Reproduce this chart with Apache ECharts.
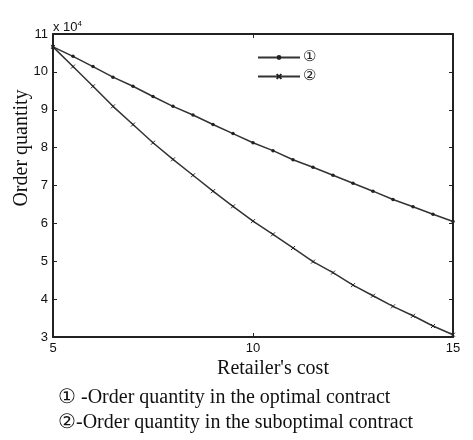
<!DOCTYPE html>
<html>
<head>
<meta charset="utf-8">
<script src="https://cdn.jsdelivr.net/npm/echarts@6/dist/echarts.min.js"></script>
<style>
  html, body { margin: 0; padding: 0; background: #fff; }
  #chart { width: 473px; height: 440px; }
</style>
</head>
<body>
<div id="chart"></div>
<script>
// Retailer's cost (x) sampled every 0.5
const retailerCost = [5, 5.5, 6, 6.5, 7, 7.5, 8, 8.5, 9, 9.5, 10, 10.5, 11, 11.5, 12, 12.5, 13, 13.5, 14, 14.5, 15];
// Order quantity, in units of 10^4
const optimalQty = [10.66, 10.41, 10.14, 9.86, 9.62, 9.35, 9.09, 8.86, 8.61, 8.37, 8.13, 7.92, 7.68, 7.48, 7.27, 7.06, 6.85, 6.63, 6.44, 6.24, 6.05];
const suboptimalQty = [10.66, 10.14, 9.62, 9.09, 8.61, 8.13, 7.69, 7.27, 6.85, 6.45, 6.06, 5.71, 5.35, 4.99, 4.70, 4.37, 4.09, 3.81, 3.56, 3.29, 3.06];
const seriesNames = ['①', '②'];
const xTitle = "Retailer's cost";
const yTitle = 'Order quantity';
const footnotes = ['① -Order quantity in the optimal contract', '②-Order quantity in the suboptimal contract'];

const pair = (xs, ys) => xs.map((x, i) => [x, ys[i]]);
const ink = '#222';
const sans = 'Arial, "Liberation Sans", sans-serif';
const serif = '"Times New Roman", "Liberation Serif", serif';

const frameAxis = (extra) => Object.assign({
  axisLine: { show: true, onZero: false, lineStyle: { color: ink, width: 2 } },
  axisTick: { show: true, inside: true, length: 4, lineStyle: { color: ink } },
  splitLine: { show: false }
}, extra);

const chart = echarts.init(document.getElementById('chart'));
chart.setOption({
  animation: false,
  backgroundColor: '#fff',
  grid: { left: 53, right: 20, top: 34, bottom: 103 },
  legend: {
    orient: 'vertical', left: 257, top: 50, padding: 0, itemWidth: 42, itemHeight: 6, itemGap: 4,
    textStyle: { fontFamily: serif, fontSize: 15, color: ink, padding: [0, 0, 0, -2] },
    data: seriesNames
  },
  xAxis: [
    frameAxis({ type: 'value', min: 5, max: 15, interval: 5,
      axisLabel: { fontFamily: sans, fontSize: 13, color: '#111', margin: 5 } }),
    frameAxis({ type: 'value', min: 5, max: 15, interval: 5, position: 'top',
      axisLabel: { show: false } })
  ],
  yAxis: [
    frameAxis({ type: 'value', min: 3, max: 11, interval: 1,
      axisLabel: { fontFamily: sans, fontSize: 13, color: '#111', margin: 5 } }),
    frameAxis({ type: 'value', min: 3, max: 11, interval: 1, position: 'right',
      axisLabel: { show: false } })
  ],
  graphic: [
    { type: 'text', left: 53, top: 20, style: {
        text: 'x 10{s|4}', fill: '#111', font: '13px ' + sans,
        rich: { s: { fontSize: 8, verticalAlign: 'top', padding: [0, 0, 7, 0], fontFamily: sans } } } },
    { type: 'text', x: 273, y: 359, style: {
        text: xTitle, fill: '#111', font: '20px ' + serif, align: 'center', textAlign: 'center' } },
    { type: 'text', x: 22, y: 148, rotation: Math.PI / 2, style: {
        text: yTitle, fill: '#111', font: '20px ' + serif,
        align: 'center', textAlign: 'center', verticalAlign: 'middle', textVerticalAlign: 'middle' } },
    { type: 'text', left: 58, top: 388, style: { text: footnotes[0], fill: '#111', font: '20px ' + serif } },
    { type: 'text', left: 58, top: 413, style: { text: footnotes[1], fill: '#111', font: '20px ' + serif } }
  ],
  series: [{
    name: seriesNames[0], type: 'line', data: pair(retailerCost, optimalQty),
    symbol: 'circle', symbolSize: 3.5, showAllSymbol: true,
    lineStyle: { color: '#333', width: 1.5 }, itemStyle: { color: '#222' }
  }, {
    name: seriesNames[1], type: 'line', data: pair(retailerCost, suboptimalQty),
    symbol: 'path://M0,0L10,10M10,0L0,10', symbolSize: 4, showAllSymbol: true,
    lineStyle: { color: '#333', width: 1.5 },
    itemStyle: { color: 'none', borderColor: '#222', borderWidth: 1 }
  }]
});
</script>
</body>
</html>
